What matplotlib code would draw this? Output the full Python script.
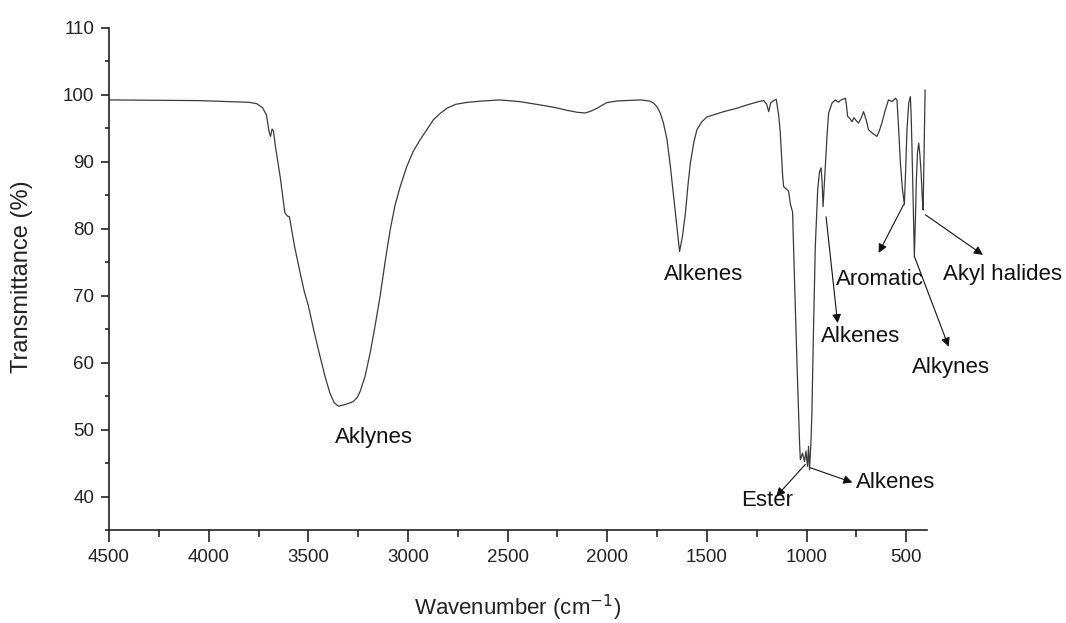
import matplotlib
matplotlib.use("Agg")
import matplotlib.pyplot as plt
from matplotlib.ticker import MultipleLocator

plt.rcParams['font.family'] = ['Liberation Sans', 'DejaVu Sans']

# FTIR spectrum, wavenumber (cm-1) vs transmittance (%)
wavenumber = [
    4500, 4300, 4050, 3900, 3800, 3760, 3730, 3710, 3697, 3690, 3682, 3675,
    3665, 3640, 3618, 3605, 3595, 3570, 3541, 3520, 3499, 3470, 3441, 3415,
    3391, 3370, 3349, 3320, 3290, 3274, 3255, 3240, 3215, 3190, 3165, 3140,
    3115, 3089, 3065, 3039, 3006, 2975, 2939, 2910, 2872, 2840, 2805, 2760,
    2700, 2620, 2540, 2440, 2336, 2260, 2202, 2150, 2110, 2080, 2052, 2002,
    1950, 1834, 1790, 1768, 1750, 1734, 1718, 1700, 1684, 1667, 1652, 1637,
    1622, 1608, 1595, 1583, 1565, 1550, 1525, 1500, 1416, 1350, 1299, 1240,
    1215, 1200, 1190, 1180, 1165, 1152, 1140, 1132, 1120, 1115, 1100, 1090,
    1081, 1070, 1060, 1048, 1035, 1031, 1020, 1010, 1003, 995, 990, 985,
    978, 973, 965, 956, 944, 935, 927, 922, 917, 912, 905, 897,
    889, 872, 855, 840, 830, 805, 800, 794, 783, 772, 762, 755,
    739, 725, 714, 700, 689, 670, 647, 635, 622, 605, 589, 570,
    554, 546, 538, 529, 519, 509, 503, 496, 487, 479, 475, 471,
    465, 459, 454, 449, 443, 437, 431, 425, 419, 415, 412, 409, 405,
]
transmittance = [
    99.25, 99.2, 99.15, 99.0, 98.9, 98.7, 98.1, 97.0, 94.5, 93.8, 94.9, 94.6,
    92.3, 87.5, 82.4, 81.9, 81.8, 77.5, 73.4, 70.6, 68.4, 64.5, 60.9, 57.8,
    55.4, 54.0, 53.5, 53.7, 54.0, 54.2, 54.8, 55.7, 58.0, 61.4, 65.5, 69.9,
    75.0, 79.9, 83.5, 86.3, 89.3, 91.5, 93.3, 94.6, 96.3, 97.2, 98.0, 98.6,
    98.9, 99.1, 99.25, 99.0, 98.5, 98.1, 97.7, 97.4, 97.3, 97.6, 98.0, 98.85,
    99.1, 99.25, 99.1, 98.8, 98.2, 97.3, 95.8, 93.3, 89.5, 84.8, 80.5, 76.6,
    79.0, 82.3, 86.5, 89.8, 93.0, 94.8, 96.0, 96.7, 97.5, 98.0, 98.5, 99.0,
    99.15, 98.6, 97.5, 98.8, 99.15, 99.35, 97.0, 94.5, 88.0, 86.3, 85.9, 85.6,
    83.7, 82.5, 72.0, 60.0, 48.0, 45.5, 46.5, 45.2, 46.8, 44.5, 47.5, 44.0,
    48.0, 52.5, 65.0, 77.4, 85.8, 88.5, 89.1, 87.0, 83.3, 86.0, 89.8, 94.0,
    97.3, 98.8, 99.25, 98.9, 99.2, 99.5, 98.5, 96.8, 96.5, 96.0, 96.6, 96.3,
    95.8, 96.6, 97.5, 96.2, 94.8, 94.3, 93.8, 94.6, 95.8, 97.7, 99.25, 99.0,
    99.5, 99.2, 95.0, 89.8, 86.0, 83.6, 88.5, 94.8, 98.8, 99.75, 97.0, 92.3,
    84.0, 75.9, 81.0, 87.3, 91.5, 92.8, 91.0, 88.3, 84.5, 82.8, 88.0, 94.0, 100.7,
]

# peak labels: text, text position, arrow tail (on curve), arrow head
labels = ["Aklynes", "Alkenes", "Ester", "Alkenes", "Alkenes",
          "Aromatic", "Alkynes", "Akyl halides"]
label_pos = [(3170, 48.8), (1518, 73.1), (1197, 39.4), (554, 42.1),
             (730, 63.9), (630, 72.4), (273, 59.3), (15, 73.1)]
arrow_tail = [None, None, (1006, 44.8), (981, 44.3), (902, 81.8),
              (513, 83.6), (459, 75.9), (404, 82.1)]
arrow_head = [None, None, (1152, 40.0), (770, 42.1), (844, 65.9),
              (638, 76.4), (287, 62.4), (115, 76.1)]

fig = plt.figure(figsize=(10.66, 6.23), dpi=100)
ax = fig.add_axes([0.1023, 0.1493, 0.7674, 0.8058])

ax.plot(wavenumber, transmittance, color='#3a3a3a', lw=0.9)

ax.set_xlim(4500, 395)
ax.set_ylim(35, 110)
ax.xaxis.set_major_locator(MultipleLocator(500))
ax.xaxis.set_minor_locator(MultipleLocator(250))
ax.yaxis.set_major_locator(MultipleLocator(10))
ax.yaxis.set_minor_locator(MultipleLocator(5))
ax.set_yticks([40, 50, 60, 70, 80, 90, 100, 110])

for side in ('top', 'right'):
    ax.spines[side].set_visible(False)
for side in ('left', 'bottom'):
    ax.spines[side].set_linewidth(1.2)
    ax.spines[side].set_color('#222222')

ax.tick_params(axis='x', which='major', direction='out', length=8.4, width=1.2,
               labelsize=13.5, pad=5, colors='#222222')
ax.tick_params(axis='x', which='minor', direction='out', length=5, width=1.2,
               colors='#222222')
ax.tick_params(axis='y', which='major', direction='out', length=5.8, width=1.2,
               labelsize=13.5, pad=5, colors='#222222')
ax.tick_params(axis='y', which='minor', direction='out', length=3, width=1.2,
               colors='#222222')

ax.set_xlabel('Wavenumber (cm$^{-1}$)', fontsize=16, color='#222222')
ax.xaxis.set_label_coords(0.5, -0.125)
ax.set_ylabel('Transmittance (%)', fontsize=17, color='#222222')
ax.yaxis.set_label_coords(-0.093, 0.504)

for text, pos, tail, head in zip(labels, label_pos, arrow_tail, arrow_head):
    ax.text(pos[0], pos[1], text, fontsize=16, ha='center', va='center',
            color='#111111', clip_on=False)
    if tail is not None:
        ax.annotate('', xy=head, xytext=tail, annotation_clip=False,
                    arrowprops=dict(arrowstyle='-|>', color='#111111',
                                    lw=0.8, mutation_scale=13,
                                    shrinkA=0, shrinkB=0))

fig.savefig('out.png', dpi=100)
